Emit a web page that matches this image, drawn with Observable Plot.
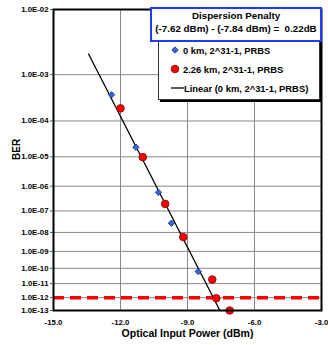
<!DOCTYPE html>
<html>
<head>
<meta charset="utf-8">
<script src="https://cdn.jsdelivr.net/npm/d3@7"></script>
<script src="https://cdn.jsdelivr.net/npm/@observablehq/plot@0.6"></script>
<style>
  body { margin: 0; background: #fff; }
  #wrap { position: relative; width: 328px; height: 345px; font-family: "Liberation Sans", Arial, sans-serif; font-weight: bold; }
  #title { position: absolute; left: 150px; top: 7px; width: 168px; height: 30px; border: 2px solid #1a3cff; background: #fff; font-size: 9.8px; text-align: center; line-height: 12.5px; padding-top: 1px; box-sizing: content-box; white-space: nowrap; }
  #legend { position: absolute; left: 158px; top: 38px; width: 160px; height: 60px; border: 1px solid #333; background: #fff; box-shadow: 2px 2px 0 #000; font-size: 9.4px; }
  .row { position: absolute; left: 10px; height: 12px; display: flex; align-items: center; white-space: nowrap; }
  .row svg { margin-right: 3px; flex: none; }
</style>
</head>
<body>
<div id="wrap"></div>
<script>
// ---- data ----
const xTicks = [-15, -12, -9, -6, -3];
const xTickLabels = ["-15.0", "-12.0", "-9.0", "-6.0", "-3.0"];
const berTicks = [1e-2, 1e-3, 1e-4, 1e-5, 1e-6, 1e-7, 1e-8, 1e-9, 1e-10, 1e-11, 1e-12, 1e-13];
const berTickLabels = ["1.0E-02", "1.0E-03", "1.0E-04", "1.0E-05", "1.0E-06", "1.0E-07", "1.0E-08", "1.0E-09", "1.0E-10", "1.0E-11", "1.0E-12", "1.0E-13"];

const km0Power = [-12.40, -11.31, -10.30, -9.72, -8.52];
const km0Ber   = [4.0e-4, 1.95e-5, 5.8e-7, 2.8e-8, 6.3e-11];

const km226Power = [-12.00, -11.00, -10.00, -9.19, -7.89, -7.71, -7.11];
const km226Ber   = [2.0e-4, 9.8e-6, 2.0e-7, 5.8e-9, 1.9e-11, 9.0e-13, 1.0e-13];

const linearPower = [-13.43, -7.55];
const linearBer   = [2.3e-3, 1.0e-13];

const thresholdBer = [1e-12];

const seriesNames = ["0 km, 2^31-1, PRBS", "2.26 km, 2^31-1, PRBS", "Linear (0 km, 2^31-1, PRBS)"];
const titleLines = ["Dispersion Penalty", "(-7.62 dBm) - (-7.84 dBm) =  0.22dB"];

// ---- build ----
const q = b => Math.log10(-Math.log10(b)); // BER-scale transform
const zip = (xs, ys) => xs.map((x, i) => ({x, y: q(ys[i])}));
const km0 = zip(km0Power, km0Ber);
const km226 = zip(km226Power, km226Ber);
const linear = zip(linearPower, linearBer);
const yTickVals = berTicks.map(q);

const plot = Plot.plot({
  width: 328, height: 345,
  marginLeft: 53, marginRight: 7, marginTop: 9, marginBottom: 35,
  style: {fontFamily: '"Liberation Sans", Arial, sans-serif', fontWeight: "bold", fontSize: "7.8px", background: "#fff", color: "#000"},
  x: {domain: [-15, -3]},
  y: {domain: [q(1e-13), q(1e-2)]},
  marks: [
    Plot.gridX(xTicks, {stroke: "#888", strokeOpacity: 1}),
    Plot.gridY(yTickVals, {stroke: "#888", strokeOpacity: 1}),
    Plot.ruleY(thresholdBer.map(q), {stroke: "#ff0000", strokeWidth: 3.5, strokeDasharray: "11,6"}),
    Plot.line(linear, {x: "x", y: "y", stroke: "#000", strokeWidth: 1.3}),
    Plot.dot(km0, {x: "x", y: "y", symbol: "diamond2", r: 2.9, fill: "#3366dd", stroke: "#1a2a70", strokeWidth: 0.8}),
    Plot.dot(km226, {x: "x", y: "y", r: 3.8, fill: "#ff0000", stroke: "#800000", strokeWidth: 0.8}),
    Plot.frame({stroke: "#000", strokeWidth: 2}),
    Plot.axisY(yTickVals, {tickSize: 3, tickPadding: 2, tickFormat: (d, i) => berTickLabels[i], label: null, stroke: "#555"}),
    Plot.axisX(xTicks, {tickSize: 0, tickPadding: 9, tickFormat: (d, i) => xTickLabels[i], label: null}),
    Plot.text(["BER"], {text: d => d, frameAnchor: "left", dx: -37, dy: 0, rotate: -90, fontSize: 10, fontWeight: "bold"}),
    Plot.text(["Optical Input Power (dBm)"], {text: d => d, frameAnchor: "bottom", dy: 26, fontSize: 10.5, fontWeight: "bold"})
  ]
});

const wrap = document.getElementById("wrap");
wrap.appendChild(plot);

// legend
const legend = document.createElement("div");
legend.id = "legend";
const sym = [
  '<svg width="10" height="10"><path d="M5,1.8L8.2,5L5,8.2L1.8,5Z" fill="#3366dd" stroke="#1a2a70" stroke-width="0.8"/></svg>',
  '<svg width="10" height="10"><circle cx="5" cy="5" r="3.8" fill="#ff0000" stroke="#800000" stroke-width="0.8"/></svg>',
  '<svg width="13" height="10" style="margin-right:0"><line x1="0" y1="5" x2="13" y2="5" stroke="#000" stroke-width="1.3"/></svg>'
];
const rowTops = [5, 24, 43];
const rowLefts = [11, 11, 12];
seriesNames.forEach((name, i) => {
  const r = document.createElement("div");
  r.className = "row";
  r.style.top = rowTops[i] + "px";
  r.style.left = rowLefts[i] + "px";
  r.innerHTML = sym[i] + "<span>" + name + "</span>";
  legend.appendChild(r);
});
wrap.appendChild(legend);

const title = document.createElement("div");
title.id = "title";
title.innerHTML = titleLines.map(t => "<div>" + t.replace(/ {2}/g, " &nbsp;") + "</div>").join("");
wrap.appendChild(title);
</script>
</body>
</html>
